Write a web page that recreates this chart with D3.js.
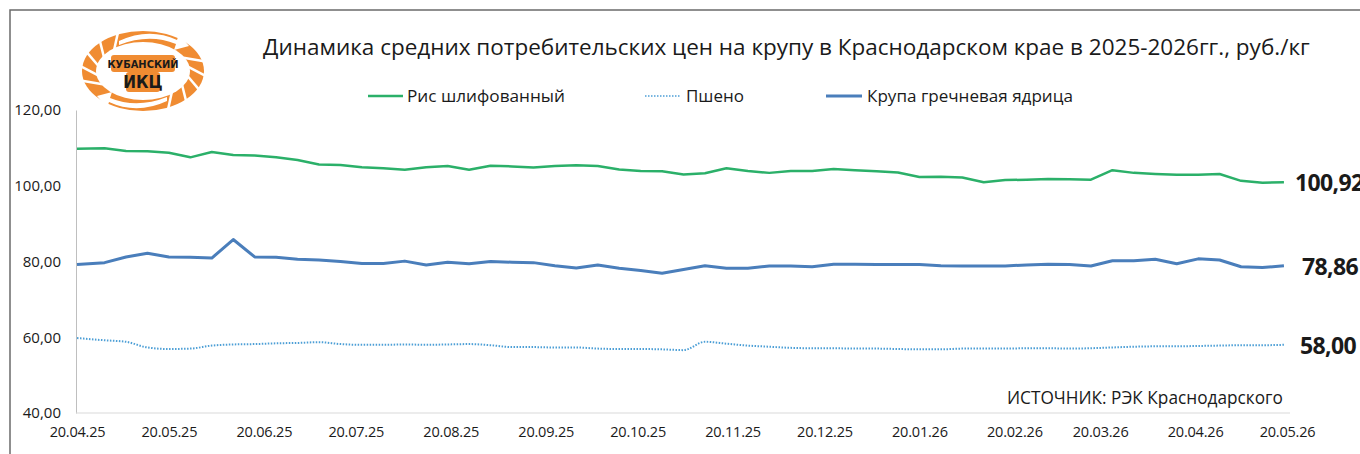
<!DOCTYPE html>
<html>
<head>
<meta charset="utf-8">
<script src="https://cdn.jsdelivr.net/npm/d3@7"></script>
<style>
  body { margin: 0; background: #fff; }
  text { font-family: "Open Sans", "Noto Sans", sans-serif; fill: #1a1a1a; }
</style>
</head>
<body>
<svg id="svg" width="1360" height="454"></svg>
<script>
const width = 1360;
const height = 454;

const dates = [
	"20.04.25","29.04.25","06.05.25","13.05.25","20.05.25","27.05.25","03.06.25","10.06.25","17.06.25","24.06.25",
	"01.07.25","08.07.25","15.07.25","22.07.25","29.07.25","05.08.25","12.08.25","19.08.25","26.08.25","02.09.25",
	"09.09.25","16.09.25","23.09.25","30.09.25","07.10.25","14.10.25","21.10.25","28.10.25","04.11.25","11.11.25",
	"18.11.25","25.11.25","02.12.25","09.12.25","16.12.25","23.12.25","30.12.25","06.01.26","13.01.26","20.01.26",
	"27.01.26","03.02.26","10.02.26","17.02.26","24.02.26","03.03.26","10.03.26","17.03.26","24.03.26","31.03.26",
	"07.04.26","14.04.26","21.04.26","28.04.26","05.05.26","12.05.26","19.05.26"
];

const rice = [
	109.8,109.9,109.2,109.1,108.7,107.5,108.9,108.1,108.0,107.5,
	106.8,105.6,105.5,104.9,104.6,104.2,104.9,105.2,104.2,105.3,
	105.1,104.8,105.2,105.4,105.2,104.3,103.9,103.8,103.0,103.3,
	104.6,103.9,103.4,103.9,103.9,104.4,104.1,103.8,103.5,102.3,
	102.4,102.2,100.9,101.5,101.6,101.8,101.7,101.6,104.1,103.4,
	103.1,102.9,102.9,103.1,101.3,100.8,100.92
];

const millet = [
	59.8,59.2,58.8,57.3,56.9,57.0,57.8,58.1,58.2,58.4,
	58.5,58.7,58.2,58.0,58.0,58.1,58.0,58.1,58.2,57.9,
	57.4,57.4,57.3,57.3,57.0,56.9,56.9,56.8,56.6,58.8,
	58.3,57.8,57.5,57.2,57.1,57.1,57.0,57.0,56.9,56.8,
	56.8,57.0,57.0,57.0,57.1,57.1,57.0,57.1,57.3,57.5,
	57.6,57.6,57.7,57.8,57.9,57.9,58.0
];

const buckwheat = [
	79.2,79.7,81.2,82.2,81.2,81.1,80.9,85.8,81.2,81.1,
	80.6,80.4,80.0,79.5,79.5,80.1,79.1,79.8,79.4,80.0,
	79.8,79.7,78.9,78.3,79.1,78.2,77.6,76.9,77.9,78.9,
	78.2,78.2,78.8,78.8,78.6,79.3,79.3,79.2,79.2,79.2,
	78.9,78.8,78.8,78.8,79.1,79.3,79.2,78.8,80.2,80.2,
	80.6,79.4,80.7,80.4,78.6,78.4,78.86
];

const xTicks = ["20.04.25","20.05.25","20.06.25","20.07.25","20.08.25","20.09.25","20.10.25",
	"20.11.25","20.12.25","20.01.26","20.02.26","20.03.26","20.04.26","20.05.26"];
const yTicks = [40, 60, 80, 100, 120];

const seriesNames = ["Рис шлифованный", "Пшено", "Крупа гречневая ядрица"];
const title = "Динамика средних потребительских цен на крупу в Краснодарском крае в 2025-2026гг., руб./кг";
const source = "ИСТОЧНИК: РЭК Краснодарского";

const green = '#2bb069';
const blue = '#4a7ebb';
const lightBlue = '#4d9fd6';

const paddings = { left: 76, top: 110, right: 73, bottom: 41 };

const parse = d3.timeParse('%d.%m.%y');
const ru = d3.formatLocale({ decimal: ',', thousands: ' ', grouping: [3], currency: ['', ''] });
const fmt = ru.format('.2f');

const svg = d3.select('#svg');

// scale text so it takes the same width as in the original
const fit = (sel, w) => {
	const len = sel.node().getComputedTextLength();
	const fs = parseFloat(sel.style('font-size'));
	sel.style('font-size', (fs * w / len) + 'px');
};

// frame
svg.append('path')
	.attr('d', 'M10,454V10H1360')
	.attr('fill', 'none')
	.attr('stroke', '#6b6b6b')
	.attr('stroke-width', 1.5);

const xScale = d3.scaleTime()
	.domain([parse('20.04.25'), parse('20.05.26')])
	.range([paddings.left + 1, width - paddings.right]);

const yScale = d3.scaleLinear()
	.domain([40, 120])
	.range([height - paddings.bottom, paddings.top]);

const yAxis = d3.axisLeft(yScale)
	.tickValues(yTicks)
	.tickFormat(fmt)
	.tickSize(0)
	.tickPadding(15);

const xAxis = d3.axisBottom(xScale)
	.tickValues(xTicks.map(parse))
	.tickFormat(d3.timeFormat('%d.%m.%y'))
	.tickSize(0)
	.tickPadding(14);

const gy = svg.append('g')
	.attr('transform', 'translate(' + paddings.left + ',0)')
	.call(yAxis);
gy.select('.domain').attr('stroke', '#bfbfbf');
gy.selectAll('text').style('font-size', '15px').attr('fill', '#1a1a1a');

const gx = svg.append('g')
	.attr('transform', 'translate(0,' + (height - paddings.bottom) + ')')
	.call(xAxis);
gx.select('.domain').attr('stroke', '#d9d9d9').attr('d', 'M' + paddings.left + ',0H' + (width - paddings.right + 3));
gx.selectAll('text').style('font-size', '14.5px').style('letter-spacing', '-0.2px').attr('fill', '#1a1a1a');

const rows = dates.map((d, i) => ({ date: parse(d), rice: rice[i], millet: millet[i], buckwheat: buckwheat[i] }));

const line = key => d3.line()
	.x(d => xScale(d.date))
	.y(d => yScale(d[key]));

svg.append('path')
	.datum(rows)
	.attr('d', line('millet').curve(d3.curveMonotoneX))
	.attr('fill', 'none')
	.attr('stroke', lightBlue)
	.attr('stroke-width', 2)
	.attr('stroke-dasharray', '1.5,1.5');

svg.append('path')
	.datum(rows)
	.attr('d', line('buckwheat'))
	.attr('fill', 'none')
	.attr('stroke', blue)
	.attr('stroke-width', 3)
	.attr('stroke-linejoin', 'round');

svg.append('path')
	.datum(rows)
	.attr('d', line('rice'))
	.attr('fill', 'none')
	.attr('stroke', green)
	.attr('stroke-width', 2.5)
	.attr('stroke-linejoin', 'round');

// end labels
const last = rows[rows.length - 1];
svg.selectAll(null)
	.data(['rice', 'buckwheat', 'millet'])
	.enter()
	.append('text')
	.attr('x', k => xScale(last.date) + (k === 'rice' ? 11 : k === 'buckwheat' ? 18 : 16))
	.attr('y', k => yScale(last[k]) + 9)
	.style('font-size', '23px')
	.style('font-weight', 'bold')
	.style('letter-spacing', '-0.6px')
	.attr('fill', '#000')
	.text(k => fmt(last[k]));

const t = svg.append('text')
	.attr('x', 263)
	.attr('y', 55)
	.style('font-size', '21px')
	.attr('fill', '#1a1a1a')
	.text(title);
fit(t, 1047);

// legend
const legend = [
	{ name: seriesNames[0], x1: 368, x2: 403, tx: 407, tw: 158, color: green, w: 2.5, dash: null },
	{ name: seriesNames[1], x1: 645, x2: 681, tx: 686, tw: 58, color: lightBlue, w: 1.5, dash: '1.5,1.5' },
	{ name: seriesNames[2], x1: 826, x2: 862, tx: 867, tw: 206, color: blue, w: 3, dash: null }
];
const lg = svg.append('g');
legend.forEach(l => {
	lg.append('line')
		.attr('x1', l.x1).attr('x2', l.x2)
		.attr('y1', 96).attr('y2', 96)
		.attr('stroke', l.color)
		.attr('stroke-width', l.w)
		.attr('stroke-dasharray', l.dash);
	const lt = lg.append('text')
		.attr('x', l.tx)
		.attr('y', 102)
		.style('font-size', '16px')
		.text(l.name);
	fit(lt, l.tw);
});

// source note
const s = svg.append('text')
	.attr('x', 1007)
	.attr('y', 404)
	.style('font-size', '15.5px')
	.attr('fill', '#262626')
	.text(source);
fit(s, 276);

// logo
const logo = svg.append('g').attr('transform', 'translate(143,71)');
const orange = '#f08c32';
logo.append('ellipse').attr('rx', 61).attr('ry', 40).attr('fill', orange);
logo.append('ellipse').attr('rx', 47).attr('ry', 29).attr('fill', '#fff');
// white cuts through the ring, to look like ears of wheat
[150, 170, 190, 210, 230, -30, -10, 10, 30, 50].forEach(a => {
	const r = a * Math.PI / 180;
	logo.append('line')
		.attr('x1', 45 * Math.cos(r)).attr('y1', 27 * Math.sin(r))
		.attr('x2', 64 * Math.cos(r + 0.3)).attr('y2', 43 * Math.sin(r + 0.3))
		.attr('stroke', '#fff')
		.attr('stroke-width', 2.5);
});
logo.append('path')
	.attr('d', 'M-24,-30 Q6,-44 34,-31 L36,-37 L46,-25 L31,-21 L33,-27 Q6,-38 -24,-26 Z')
	.attr('fill', '#fff');
logo.append('path')
	.attr('d', 'M24,30 Q-6,44 -34,31 L-36,37 L-46,25 L-31,21 L-33,27 Q-6,38 24,26 Z')
	.attr('fill', '#fff');
logo.append('rect').attr('x', -32).attr('y', -16).attr('width', 64).attr('height', 17).attr('rx', 3).attr('fill', orange);
logo.append('rect').attr('x', -17).attr('y', 1).attr('width', 34).attr('height', 20).attr('rx', 3).attr('fill', orange);
logo.append('text')
	.attr('x', 0).attr('y', -3)
	.attr('text-anchor', 'middle')
	.style('font-size', '11px')
	.style('font-weight', 'bold')
	.style('font-family', '"Liberation Sans Narrow", "DejaVu Sans Condensed", sans-serif')
	.attr('fill', '#fff')
	.text('КУБАНСКИЙ');
logo.append('text')
	.attr('x', 0).attr('y', 17)
	.attr('text-anchor', 'middle')
	.style('font-size', '17px')
	.style('font-weight', 'bold')
	.style('font-family', '"Liberation Sans Narrow", "DejaVu Sans Condensed", sans-serif')
	.attr('fill', '#fff')
	.text('ИКЦ');
</script>
</body>
</html>
